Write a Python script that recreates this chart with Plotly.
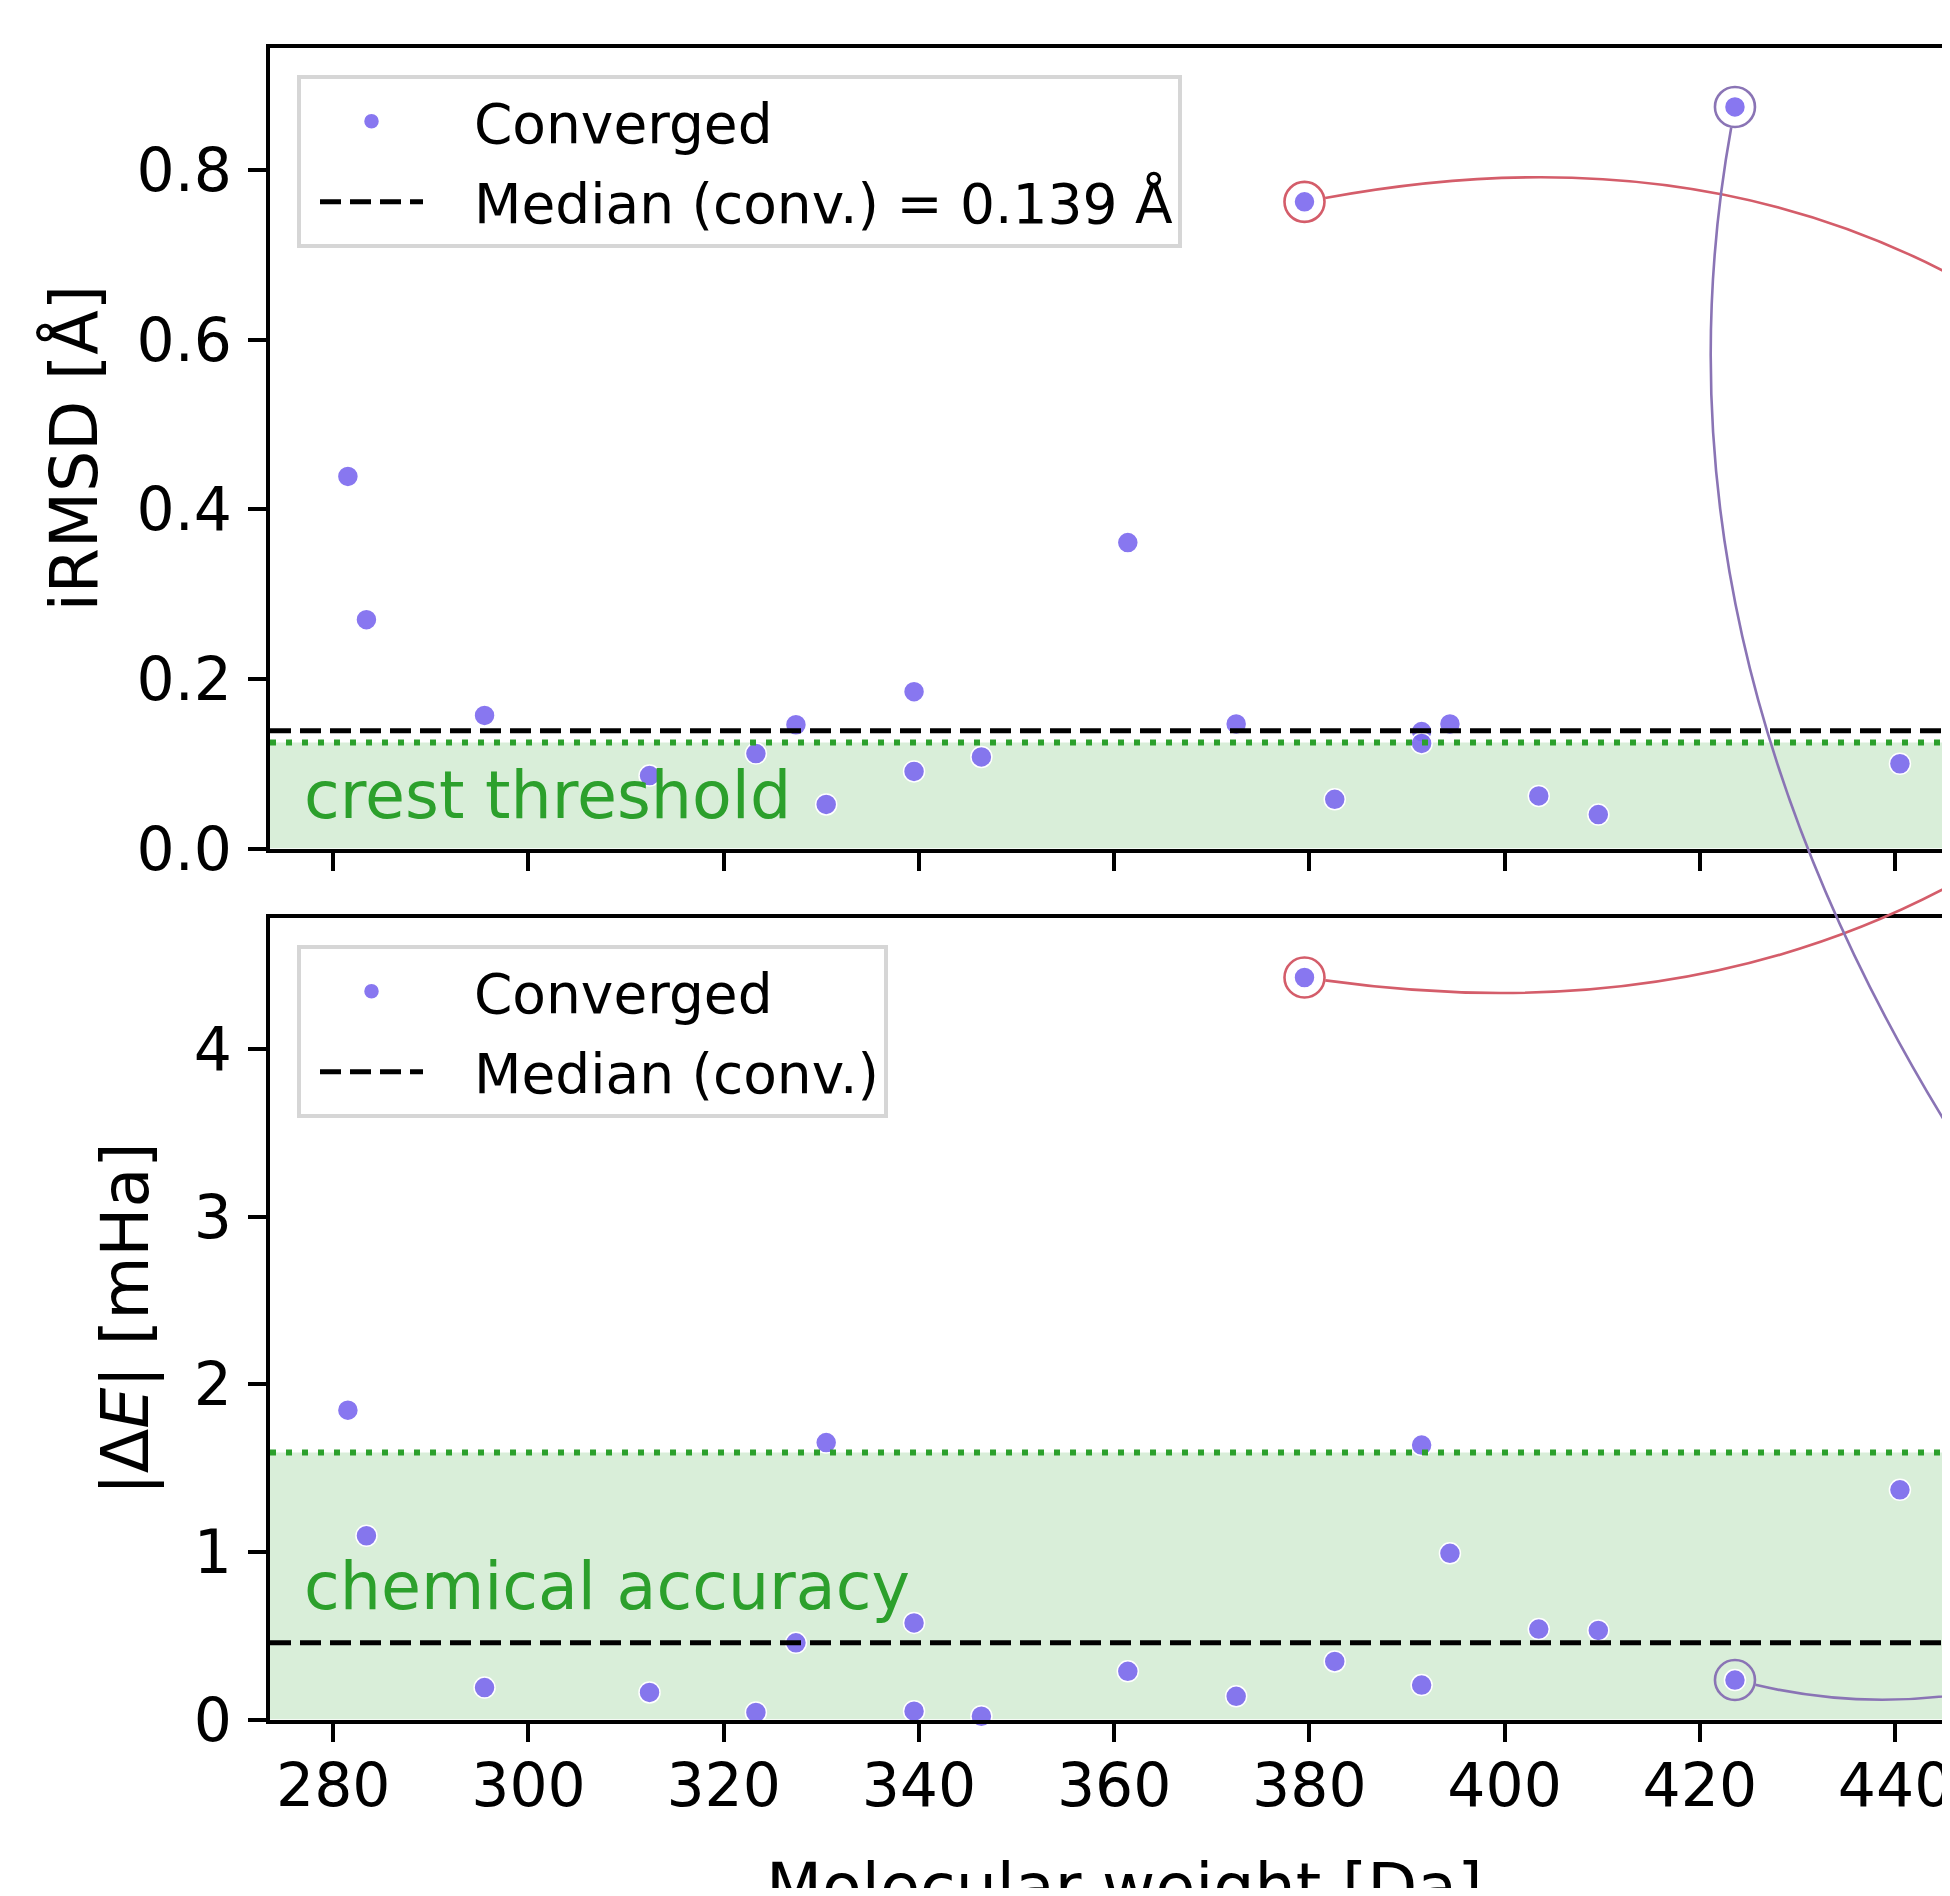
import numpy as np
import plotly.graph_objects as go

# ---------------- data ----------------
mol_weight = [281.5, 283.4, 295.5, 312.4, 323.3, 327.4, 330.5, 339.5, 339.5, 346.4,
              361.4, 372.5, 379.5, 382.6, 391.5, 391.5, 394.4, 403.5, 409.6, 423.6, 440.5]
irmsd = [0.439, 0.270, 0.157, 0.086, 0.112, 0.146, 0.052, 0.185, 0.091, 0.108,
         0.361, 0.147, 0.763, 0.058, 0.138, 0.124, 0.147, 0.062, 0.040, 0.875, 0.100]
delta_e = [1.846, 1.097, 0.191, 0.162, 0.043, 0.458, 1.653, 0.577, 0.050, 0.020,
           0.288, 0.139, 4.428, 0.347, 0.206, 1.638, 0.992, 0.540, 0.532, 0.236, 1.371]
highlight_idx = [12, 19]                 # red, purple
highlight_colors = ["#d45d6a", "#8a74b5"]

median_irmsd = 0.139
median_de = 0.458
crest_threshold = 0.125                   # Angstrom
chem_accuracy = 1.594                     # mHa (1 kcal/mol)

x_ticks = [280, 300, 320, 340, 360, 380, 400, 420, 440]
y_ticks_top = [0.0, 0.2, 0.4, 0.6, 0.8]
y_ticklabels_top = ["0.0", "0.2", "0.4", "0.6", "0.8"]
y_ticks_bot = [0, 1, 2, 3, 4]

# ---------------- layout geometry ----------------
OFF = 8                                   # page body margin
W, H = 1950 - 2 * OFF, 1896 - 2 * OFF
X_DOM = [(270 - OFF) / W, 1.0]
Y_DOM_TOP = [1 - (848.5 - OFF) / H, 1 - (47.6 - OFF) / H]
Y_DOM_BOT = [1 - (1719.6 - OFF) / H, 1 - (918 - OFF) / H]
X_RANGE = [273.52, 444.81]
Y_RANGE_TOP = [0, 0.945]
Y_RANGE_BOT = [0, 4.783]

FONT = "DejaVu Sans"
MARKER_COLOR = "rgba(123,104,238,0.9)"
GREEN = "#2ca02c"
BAND = "rgba(44,160,44,0.18)"
PAD = "\u00a0\u00a0\u2009"               # gap between legend symbol and label


def to_px(x, y, yrange, ydom):
    fx = X_DOM[0] + (x - X_RANGE[0]) / (X_RANGE[1] - X_RANGE[0]) * (X_DOM[1] - X_DOM[0])
    fy = ydom[0] + (y - yrange[0]) / (yrange[1] - yrange[0]) * (ydom[1] - ydom[0])
    return np.array([fx * W, (1 - fy) * H])


def px_to_paper(p):
    return p[0] / W, 1 - p[1] / H


def curve_path(center, c_off, p2_off, r=21.0):
    c_off = np.asarray(c_off, float)
    start = center + r * c_off / np.linalg.norm(c_off)
    ctrl = center + c_off
    end = center + np.asarray(p2_off, float)
    s, c, e = px_to_paper(start), px_to_paper(ctrl), px_to_paper(end)
    return f"M{s[0]:.5f},{s[1]:.5f} Q{c[0]:.5f},{c[1]:.5f} {e[0]:.5f},{e[1]:.5f}"


fig = go.Figure()

# ---------------- top panel ----------------
fig.add_trace(go.Scatter(
    x=mol_weight, y=irmsd, mode="markers", name=PAD + "Converged", legendgroup="a",
    marker=dict(size=21, color=MARKER_COLOR, line=dict(color="white", width=1.5)),
    xaxis="x", yaxis="y", legend="legend", cliponaxis=False))
fig.add_trace(go.Scatter(
    x=X_RANGE, y=[median_irmsd, median_irmsd], mode="lines", legendgroup="b",
    name=PAD + "Median (conv.) = 0.139 Å",
    line=dict(color="black", width=5, dash="21px,9px"),
    xaxis="x", yaxis="y", legend="legend"))

# ---------------- bottom panel ----------------
fig.add_trace(go.Scatter(
    x=mol_weight, y=delta_e, mode="markers", name=PAD + "Converged", legendgroup="c",
    marker=dict(size=21, color=MARKER_COLOR, line=dict(color="white", width=1.5)),
    xaxis="x2", yaxis="y2", legend="legend2", cliponaxis=False))
fig.add_trace(go.Scatter(
    x=X_RANGE, y=[median_de, median_de], mode="lines", legendgroup="d",
    name=PAD + "Median (conv.)",
    line=dict(color="black", width=5, dash="21px,9px"),
    xaxis="x2", yaxis="y2", legend="legend2"))

# highlight rings
for idx, col in zip(highlight_idx, highlight_colors):
    for yv, xa, ya in [(irmsd[idx], "x", "y"), (delta_e[idx], "x2", "y2")]:
        fig.add_trace(go.Scatter(
            x=[mol_weight[idx]], y=[yv], mode="markers", showlegend=False,
            marker=dict(symbol="circle-open", size=40, color=col, line=dict(width=2.6, color=col)),
            xaxis=xa, yaxis=ya, cliponaxis=False, hoverinfo="skip"))

shapes = []
# green bands and threshold lines
for yref, thr in [("y", crest_threshold), ("y2", chem_accuracy)]:
    xref = "x domain" if yref == "y" else "x2 domain"
    shapes.append(dict(type="rect", xref=xref, yref=yref, x0=0, x1=1, y0=0, y1=thr,
                       fillcolor=BAND, line=dict(width=0), layer="below"))
    shapes.append(dict(type="line", xref=xref, yref=yref, x0=0, x1=1, y0=thr, y1=thr,
                       line=dict(color=GREEN, width=6, dash="6px,10px"), layer="above"))

# connection curves (toward structures outside the visible frame)
red_i, pur_i = highlight_idx
c_red_top = to_px(mol_weight[red_i], irmsd[red_i], Y_RANGE_TOP, Y_DOM_TOP)
c_red_bot = to_px(mol_weight[red_i], delta_e[red_i], Y_RANGE_BOT, Y_DOM_BOT)
c_pur_top = to_px(mol_weight[pur_i], irmsd[pur_i], Y_RANGE_TOP, Y_DOM_TOP)
c_pur_bot = to_px(mol_weight[pur_i], delta_e[pur_i], Y_RANGE_BOT, Y_DOM_BOT)
curves = [
    (c_red_top, (720.5, -133.7), (1095.5, 548.3), highlight_colors[0]),
    (c_red_bot, (720.5, 100.5), (1095.5, -558.5), highlight_colors[0]),
    (c_pur_top, (-121.3, 670.7), (434.2, 1320.7), highlight_colors[1]),
    (c_pur_bot, (220.7, 51.9), (420.7, -49.7), highlight_colors[1]),
]
for cen, co, po, col in curves:
    shapes.append(dict(type="path", xref="paper", yref="paper", path=curve_path(cen, co, po),
                       line=dict(color=col, width=2.6), layer="above"))

annotations = [
    dict(text="crest threshold", xref="x domain", yref="y", x=32 / (W - 262), y=crest_threshold / 2,
         xanchor="left", yanchor="middle", showarrow=False,
         font=dict(family=FONT, size=65, color=GREEN)),
    dict(text="chemical accuracy", xref="x2 domain", yref="y2", x=32 / (W - 262), y=chem_accuracy / 2,
         xanchor="left", yanchor="middle", showarrow=False,
         font=dict(family=FONT, size=65, color=GREEN)),
    # x-axis title (centred on the full, wider original axes)
    dict(text="Molecular weight [Da]", xref="paper", yref="paper",
         x=(1124 - OFF) / W, y=1 - (1848 - OFF) / H, xanchor="center", yanchor="top",
         showarrow=False, font=dict(family=FONT, size=65, color="black")),
]

axis_common = dict(showline=True, linewidth=4, linecolor="black", ticks="outside",
                   ticklen=18, tickwidth=4, tickcolor="black", showgrid=False,
                   zeroline=False, automargin=False,
                   tickfont=dict(family=FONT, size=60, color="black"))

legend_common = dict(xanchor="left", yanchor="top", bgcolor="white",
                     bordercolor="#d6d6d6", borderwidth=4,
                     font=dict(family=FONT, size=55, color="black"),
                     itemwidth=103, tracegroupgap=6, traceorder="grouped",
                     indentation=14)

fig.update_layout(
    width=W, height=H, margin=dict(l=0, r=0, t=0, b=0),
    paper_bgcolor="white", plot_bgcolor="white", template="none",
    showlegend=True,
    xaxis=dict(domain=X_DOM, range=X_RANGE, anchor="y", tickvals=x_ticks,
               showticklabels=False, mirror=True, **axis_common),
    yaxis=dict(domain=Y_DOM_TOP, range=Y_RANGE_TOP, anchor="x", tickvals=y_ticks_top,
               ticktext=y_ticklabels_top, ticklabelstandoff=4,
               title=dict(text="iRMSD [Å]", font=dict(family=FONT, size=65, color="black"), standoff=19),
               **axis_common),
    xaxis2=dict(domain=X_DOM, range=X_RANGE, anchor="y2", tickvals=x_ticks,
                mirror=True, ticklabelstandoff=-8, ticklabeloverflow="allow",
                **axis_common),
    yaxis2=dict(domain=Y_DOM_BOT, range=Y_RANGE_BOT, anchor="x2", tickvals=y_ticks_bot,
                ticklabelstandoff=4,
                title=dict(text="|Δ<i>E</i>| [mHa]", font=dict(family=FONT, size=65, color="black"), standoff=25),
                **axis_common),
    legend=dict(x=(297 - OFF) / W, y=1 - (75 - OFF) / H, **legend_common),
    legend2=dict(x=(297 - OFF) / W, y=1 - (945 - OFF) / H, **legend_common),
    shapes=shapes,
    annotations=annotations,
)

fig.write_html("out.html")
